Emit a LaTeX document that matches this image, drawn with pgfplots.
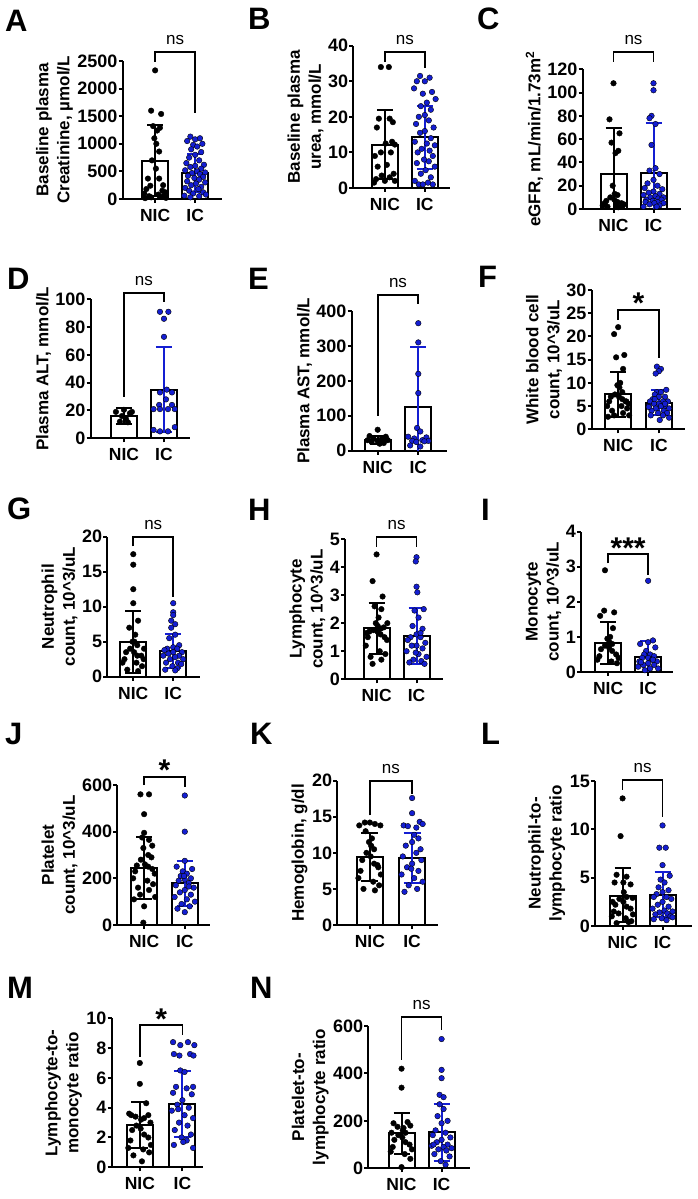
\documentclass[border=0pt]{standalone}
\usepackage{fontspec}
\setmainfont{Liberation Sans}
\usepackage{pgfplots}
\pgfplotsset{compat=1.18}
\definecolor{icblue}{RGB}{20,30,210}
\newcommand\tickfont{\fontsize{18}{18}\selectfont\bfseries}
\newcommand\xtfont{\fontsize{17.5}{17.5}\selectfont\bfseries}
\newcommand\labfont{\fontsize{17}{21}\selectfont\bfseries}
\newcommand\nsfont{\fontsize{17}{17}\selectfont}
\newcommand\starfont{\fontsize{30}{30}\selectfont\bfseries}
\newcommand\letfont{\fontsize{31}{31}\selectfont\bfseries}
\pgfplotsset{
 panel/.style={scale only axis, clip=false, anchor=south west,
  axis x line*=bottom, axis y line*=left,
  axis line style={-, line width=2pt},
  ymin=0, xtick={0,1}, xticklabels={NIC,IC},
  major tick length=4pt, tick align=outside, tick style={line width=2pt, black},
  minor tick num=0,
  /pgf/number format/assume math mode=true,
  /pgf/number format/1000 sep={},
  scaled y ticks=false,
  yticklabel style={font=\tickfont, inner sep=1pt},
  xticklabel style={font=\xtfont, inner sep=1pt, yshift=-5pt},
  ylabel style={font=\labfont, align=center}},
 bars/.style={ybar, bar width=26pt, bar shift=0pt, fill=white, draw=black, line width=2pt},
 np/.style={only marks, mark=*, mark size=2.8pt, mark options={fill=black, draw=none}},
 ip/.style={only marks, mark=*, mark size=2.8pt, mark options={fill=icblue, draw=none}},
 brk/.style={black, line width=1.8pt},
}
\tikzset{
 nsl/.style={anchor=base, font=\nsfont, inner sep=0pt, yshift=7.5pt},
 stl/.style={anchor=base, font=\starfont, inner sep=0pt, yshift=-4pt},
}
\newcommand\ebN[2]{\addplot[black,line width=2pt] coordinates {(0,#1) (0,#2)};
 \addplot[black,line width=2pt] coordinates {(-0.2,#2) (0.2,#2)};
 \addplot[black,line width=2pt] coordinates {(-0.2,#1) (0.2,#1)};}
\newcommand\ebI[2]{\addplot[icblue,line width=2pt] coordinates {(1,#1) (1,#2)};
 \addplot[icblue,line width=2pt] coordinates {(0.8,#2) (1.2,#2)};
 \addplot[icblue,line width=2pt] coordinates {(0.8,#1) (1.2,#1)};}
\newcommand\ebNu[1]{\addplot[black,line width=2pt] coordinates {(0,0) (0,#1)};
 \addplot[black,line width=2pt] coordinates {(-0.2,#1) (0.2,#1)};}
\newcommand\ebIu[1]{\addplot[icblue,line width=2pt] coordinates {(1,0) (1,#1)};
 \addplot[icblue,line width=2pt] coordinates {(0.8,#1) (1.2,#1)};}
\begin{document}
\begin{tikzpicture}[x=1pt,y=1pt]
\path[use as bounding box] (0,0) rectangle (698,1199);
% panel letters
\node[anchor=base west, font=\letfont, inner sep=0] at (5,1167) {A};
\node[anchor=base west, font=\letfont, inner sep=0] at (248,1169) {B};
\node[anchor=base west, font=\letfont, inner sep=0] at (477,1169) {C};
\node[anchor=base west, font=\letfont, inner sep=0] at (7,909) {D};
\node[anchor=base west, font=\letfont, inner sep=0] at (248,909) {E};
\node[anchor=base west, font=\letfont, inner sep=0] at (478,911) {F};
\node[anchor=base west, font=\letfont, inner sep=0] at (7,679) {G};
\node[anchor=base west, font=\letfont, inner sep=0] at (248,678) {H};
\node[anchor=base west, font=\letfont, inner sep=0] at (481,678) {I};
\node[anchor=base west, font=\letfont, inner sep=0] at (5,454) {J};
\node[anchor=base west, font=\letfont, inner sep=0] at (250,454) {K};
\node[anchor=base west, font=\letfont, inner sep=0] at (481,454) {L};
\node[anchor=base west, font=\letfont, inner sep=0] at (7,200) {M};
\node[anchor=base west, font=\letfont, inner sep=0] at (250,200) {N};

% A
\begin{axis}[panel, at={(122.7pt,1000pt)}, width=99.3pt, height=138pt, xmin=-0.81, xmax=1.67, ymax=2500, ytick={0,500,1000,1500,2000,2500}, ylabel={Baseline plasma\\Creatinine, µmol/L}]
\addplot[bars] coordinates {(0,693) (1,470)};
\addplot[np] coordinates {(0,2330) (-0.1,1600) (0.15,1540) (-0.05,1320) (0.12,1290) (0.05,1240) (-0.02,1100) (0.03,1000) (0.1,860) (-0.08,700) (0.02,550) (-0.18,370) (0.1,370) (0.2,250) (-0.22,180) (0.26,120) (-0.27,100) (0.08,80) (0.22,60) (-0.15,50) (0.12,40) (-0.1,30) (0.27,20) (-0.25,15) (0.18,150) (-0.12,240)};
\addplot[ip] coordinates {(0.88,1130) (1.12,1100) (1.0,1080) (0.8,1050) (1.18,1000) (0.95,980) (1.05,950) (0.9,900) (1.15,850) (1.0,800) (0.85,750) (1.1,700) (0.78,650) (1.22,620) (1.0,600) (0.88,580) (1.15,550) (0.75,520) (1.05,500) (1.25,480) (0.92,470) (1.12,450) (0.82,420) (1.2,400) (0.98,380) (1.1,350) (0.8,320) (1.25,300) (1.02,280) (0.9,250) (1.15,220) (0.75,200) (1.08,180) (0.85,150) (1.2,120) (0.95,100) (1.27,80) (0.73,60) (1.1,50) (0.88,30)};
\ebN{48}{1338}
\ebI{121}{819}
\addplot[brk] coordinates {(0,2487) (0,2668) (1,2668) (1,1558)};
\node[nsl] at (axis cs:0.5,2668) {ns};
\end{axis}

% B
\begin{axis}[panel, at={(353.3pt,1011pt)}, width=96.7pt, height=142.3pt, xmin=-0.79, xmax=1.63, ymax=40, ytick={0,10,20,30,40}, ylabel={Baseline plasma\\urea, mmol/L}]
\addplot[bars] coordinates {(0,12.2) (1,14.2)};
\addplot[np] coordinates {(-0.1,34) (0.1,34) (-0.15,19.5) (0.12,19.5) (0.2,18.5) (-0.2,17) (0.02,12.5) (0.25,12.2) (-0.1,10) (0.15,10) (-0.25,9) (0.05,6.5) (-0.18,6) (0.22,4) (-0.08,3.5) (0.12,3) (-0.22,2.5) (0.25,2) (0,2) (-0.27,1.5) (0.18,13)};
\addplot[ip] coordinates {(0.88,31.5) (1.12,31) (1.0,30) (0.8,30) (1.18,27) (0.95,26.5) (1.05,24) (0.9,23) (1.15,22) (1.0,20.5) (0.85,20) (1.1,19) (0.78,18) (1.22,17) (1.0,16) (0.88,15.5) (1.15,14) (0.75,13) (1.05,12.5) (1.25,12) (0.92,11) (1.12,10.5) (0.82,10) (1.2,9) (0.98,8) (1.1,7.5) (0.8,7) (1.25,6) (1.02,5) (0.9,4) (1.15,3) (0.75,2) (1.08,1.5) (0.85,1) (1.2,1) (0.95,1) (1.27,25) (0.73,28)};
\ebN{2.5}{21.9}
\ebI{5.3}{23.1}
\addplot[brk] coordinates {(0,35.5) (0,38.3) (1,38.3) (1,33.6)};
\node[nsl] at (axis cs:0.5,38.3) {ns};
\end{axis}

% C
\begin{axis}[panel, at={(582.7pt,990pt)}, width=98pt, height=139.7pt, xmin=-0.77, xmax=1.68, ymax=120, ytick={0,20,40,60,80,100,120}, ylabel={eGFR, mL/min/1.73m\textsuperscript{2}}]
\addplot[bars] coordinates {(0,30) (1,31.2)};
\addplot[np] coordinates {(0,108) (-0.1,77) (0.15,65) (-0.05,57) (0.12,50) (0.05,48) (-0.02,20) (0.03,13) (0.1,12) (-0.08,10) (0.02,8) (-0.18,7) (0.1,6) (0.2,5) (-0.22,5) (0.26,4) (-0.27,3) (0.08,3) (0.22,2) (-0.15,2) (0.12,1.5)};
\addplot[ip] coordinates {(1.0,108) (1.0,102) (0.95,80) (0.9,78) (1.05,73) (0.95,55) (1.05,35) (0.9,33) (1.15,30) (1.0,25) (0.85,22) (1.1,20) (0.78,18) (1.22,17) (1.0,15) (0.88,14) (1.15,13) (0.75,12) (1.05,11) (1.25,10) (0.92,10) (1.12,9) (0.82,8) (1.2,8) (0.98,7) (1.1,6) (0.8,6) (1.25,5) (1.02,5) (0.9,4) (1.15,3) (0.75,2) (1.08,2)};
\ebNu{69.3}
\ebIu{73.6}
\addplot[brk] coordinates {(0,126.5) (0,135) (1,135) (1,126.5)};
\node[nsl] at (axis cs:0.5,135) {ns};
\end{axis}

% D
\begin{axis}[panel, at={(90.7pt,760.7pt)}, width=99.3pt, height=139pt, xmin=-0.83, xmax=1.65, ymax=100, ytick={0,20,40,60,80,100}, ylabel={Plasma ALT, mmol/L}]
\addplot[bars] coordinates {(0,16.1) (1,34.8)};
\addplot[np] coordinates {(-0.2,19) (0.0,20.5) (0.2,19) (-0.1,12) (0.1,11.5) (0.05,14) (-0.05,16) (0.15,18)};
\addplot[ip] coordinates {(0.9,91) (1.11,91) (1.0,86) (1.0,73) (1.07,35) (0.9,33) (1.2,33) (1.05,28) (0.88,24) (1.2,24) (0.74,21) (0.9,21) (1.1,21) (1.27,21) (1.27,8) (0.74,6) (0.9,5) (1.1,5)};
\ebN{10.6}{21.6}
\ebI{4.5}{65.5}
\addplot[brk] coordinates {(0,30) (0,104.3) (1,104.3) (1,98)};
\node[nsl] at (axis cs:0.5,104.3) {ns};
\end{axis}

% E
\begin{axis}[panel, at={(351.7pt,748.3pt)}, width=95pt, height=139.7pt, xmin=-0.64, xmax=1.70, ymax=400, ytick={0,100,200,300,400}, ylabel={Plasma AST, mmol/L}]
\addplot[bars] coordinates {(0,30.5) (1,124)};
\addplot[np] coordinates {(0,60) (-0.2,42) (0.2,40) (-0.1,35) (0.1,33) (-0.25,30) (0.25,30) (0,28) (-0.15,25) (0.15,22) (0.05,20) (0.2,35)};
\addplot[ip] coordinates {(1,365) (1,310) (1,220) (1,165) (0.97,65) (1.05,55) (0.75,40) (1.2,38) (0.9,35) (1.1,30) (0.85,28) (1.25,28) (1.15,27) (0.95,25) (0.8,15) (1.05,12)};
\ebN{19}{42}
\ebIu{296}
\addplot[brk] coordinates {(0,100) (0,446) (1,446) (1,420)};
\node[nsl] at (axis cs:0.5,446) {ns};
\end{axis}

% F
\begin{axis}[panel, at={(591.7pt,769.7pt)}, width=93.3pt, height=139.3pt, xmin=-0.65, xmax=1.64, ymax=30, ytick={0,5,10,15,20,25,30}, ylabel={White blood cell\\count, 10\textasciicircum 3/uL}]
\addplot[bars] coordinates {(0,7.5) (1,5.74)};
\addplot[np] coordinates {(0,22) (-0.1,20.5) (0.15,16) (-0.05,15.5) (0.12,13) (0.05,10) (-0.02,9.5) (0.03,9) (0.1,8) (-0.08,7.5) (0.02,7) (-0.18,7) (0.1,6.5) (0.2,6) (-0.22,6) (0.26,5.5) (-0.27,5) (0.08,5) (0.22,4.5) (-0.15,4) (0.12,3.5) (-0.1,3) (0.27,3) (-0.25,2.7) (0.18,6)};
\addplot[ip] coordinates {(0.95,13.5) (1.05,13) (1.0,12.5) (0.92,12) (1.18,8.5) (0.95,8) (1.05,8) (0.9,7.5) (1.15,7) (1.0,7) (0.85,6.5) (1.1,6) (0.78,6) (1.22,6) (1.0,5.5) (0.88,5.5) (1.15,5) (0.75,5) (1.05,5) (1.25,4.5) (0.92,4.5) (1.12,4) (0.82,4) (1.2,3.5) (0.98,3.5) (1.1,3) (0.8,3) (1.25,2.5) (1.02,2) (0.9,6.5) (1.15,5.5) (0.75,4.8)};
\ebN{2.6}{12.4}
\ebI{3.0}{8.47}
\addplot[brk] coordinates {(0,23.5) (0,25.7) (1,25.7) (1,15.3)};
\node[stl] at (axis cs:0.5,25.7) {*};
\end{axis}

% G
\begin{axis}[panel, at={(107.3pt,522.3pt)}, width=92.7pt, height=140pt, xmin=-0.65, xmax=1.67, ymax=20, ytick={0,5,10,15,20}, ylabel={Neutrophil\\count, 10\textasciicircum 3/uL}]
\addplot[bars] coordinates {(0,5.0) (1,3.67)};
\addplot[np] coordinates {(0,17.5) (0,16) (0,12.5) (0,10.5) (0.12,8) (0.05,6) (-0.02,5) (0.03,5) (0.1,4.5) (-0.08,4) (0.02,3.5) (-0.18,3.5) (0.1,3) (0.2,3) (-0.22,2.5) (0.26,2.5) (-0.27,2) (0.08,2) (0.22,1.5) (-0.15,1) (0.12,0.8) (-0.1,7) (0.27,4)};
\addplot[ip] coordinates {(1.0,10.5) (1.0,9.2) (1.0,8.8) (0.95,8) (1.05,7.5) (0.95,7) (1.05,6) (0.9,5.5) (1.15,4.5) (1.0,4.2) (0.85,4) (1.1,4) (0.78,3.8) (1.22,3.5) (1.0,3.5) (0.88,3.3) (1.15,3) (0.75,3) (1.05,2.8) (1.25,2.5) (0.92,2.5) (1.12,2) (0.82,2) (1.2,1.8) (0.98,1.5) (1.1,1.2) (0.8,1) (1.05,0.9)};
\ebN{0.57}{9.43}
\ebI{1.24}{6.1}
\addplot[brk] coordinates {(0,18.6) (0,19.9) (1,19.9) (1,11.4)};
\node[nsl] at (axis cs:0.5,19.9) {ns};
\end{axis}

% H
\begin{axis}[panel, at={(345pt,519.7pt)}, width=98.3pt, height=140.3pt, xmin=-0.79, xmax=1.67, ymax=5, ytick={0,1,2,3,4,5}, ylabel={Lymphocyte\\count, 10\textasciicircum 3/uL}]
\addplot[bars] coordinates {(0,1.82) (1,1.54)};
\addplot[np] coordinates {(0,4.45) (-0.1,3.5) (0.15,2.95) (-0.05,2.6) (0.12,2.5) (0.05,2.2) (-0.02,2.0) (0.03,1.9) (0.1,1.8) (-0.08,1.75) (0.02,1.7) (-0.18,1.7) (0.1,1.6) (0.2,1.5) (-0.22,1.5) (0.26,1.4) (-0.27,1.2) (0.08,1.0) (0.22,0.9) (-0.15,0.8) (0.12,0.7) (-0.1,0.55) (0.27,2.0) (-0.25,1.65) (0.18,1.85)};
\addplot[ip] coordinates {(1.0,4.35) (0.98,4.2) (1.0,3.3) (1.02,3.1) (1.18,2.5) (0.95,2.45) (1.05,2.2) (0.9,1.9) (1.15,1.8) (1.0,1.6) (0.85,1.5) (1.1,1.5) (0.78,1.4) (1.22,1.3) (1.0,1.2) (0.88,1.2) (1.15,1.1) (0.75,1.0) (1.05,0.9) (1.25,0.8) (0.92,0.7) (1.12,0.65) (0.82,0.6) (1.2,0.55) (0.98,0.95) (1.1,1.65)};
\ebN{0.91}{2.73}
\ebI{0.55}{2.53}
\addplot[brk] coordinates {(0,4.73) (0,5.06) (1,5.06) (1,4.73)};
\node[nsl] at (axis cs:0.5,5.06) {ns};
\end{axis}

% I
\begin{axis}[panel, at={(581pt,527pt)}, width=92.3pt, height=140.3pt, xmin=-0.68, xmax=1.63, ymax=4, ytick={0,1,2,3,4}, ylabel={Monocyte\\count, 10\textasciicircum 3/uL}]
\addplot[bars] coordinates {(0,0.836) (1,0.437)};
\addplot[np] coordinates {(-0.08,2.9) (-0.1,1.75) (0.15,1.7) (-0.2,1.6) (0.12,1.25) (0.05,1.0) (-0.02,0.95) (0.03,0.85) (0.1,0.8) (-0.08,0.75) (0.02,0.7) (-0.18,0.65) (0.1,0.6) (0.2,0.5) (-0.22,0.45) (0.26,0.4) (-0.27,0.35) (0.08,0.3) (0.22,0.25)};
\addplot[ip] coordinates {(1.0,2.6) (1.12,0.9) (1.0,0.85) (0.8,0.8) (1.18,0.7) (0.95,0.6) (1.05,0.5) (0.9,0.5) (1.15,0.45) (1.0,0.4) (0.85,0.4) (1.1,0.35) (0.78,0.3) (1.22,0.3) (1.0,0.25) (0.88,0.2) (1.15,0.2) (0.75,0.15) (1.05,0.1) (1.25,0.1) (0.92,0.05) (1.12,0.35) (0.82,0.28)};
\ebN{0.24}{1.43}
\ebIu{0.88}
\addplot[brk] coordinates {(0,3.1) (0,3.36) (1,3.36) (1,2.77)};
\node[stl] at (axis cs:0.5,3.36) {***};
\end{axis}

% J
\begin{axis}[panel, at={(117.3pt,274pt)}, width=92.7pt, height=140pt, xmin=-0.66, xmax=1.62, ymax=600, ytick={0,200,400,600}, ylabel={Platelet\\count, 10\textasciicircum 3/uL}]
\addplot[bars] coordinates {(0,243) (1,179)};
\addplot[np] coordinates {(-0.09,560) (0.12,560) (0,475) (0,395) (-0.05,375) (0.12,365) (-0.02,330) (0.2,340) (0.1,300) (-0.08,280) (0.02,260) (-0.18,255) (0.1,250) (0.2,240) (-0.22,230) (0.26,220) (-0.27,200) (0.08,190) (0.22,175) (-0.15,160) (0.12,150) (-0.1,130) (0.27,120) (-0.25,110) (0.0,80) (-0.02,10) (0.18,290)};
\addplot[ip] coordinates {(1.0,555) (1.0,400) (1.0,275) (0.8,250) (1.18,240) (0.95,230) (1.05,220) (0.9,210) (1.15,200) (1.0,195) (0.85,190) (1.1,180) (0.78,170) (1.22,160) (1.0,150) (0.88,140) (1.15,130) (0.75,120) (1.05,110) (1.25,100) (0.92,90) (1.12,80) (0.82,70) (1.0,55) (0.98,210) (1.1,165)};
\ebN{110}{376}
\ebI{82}{276}
\addplot[brk] coordinates {(0,600) (0,635.6) (1,635.6) (1,593)};
\node[stl] at (axis cs:0.5,635.6) {*};
\end{axis}

% K
\begin{axis}[panel, at={(337.3pt,274pt)}, width=101pt, height=144.3pt, xmin=-0.77, xmax=1.62, ymax=20, ytick={0,5,10,15,20}, ylabel={Hemoglobin, g/dl}]
\addplot[bars] coordinates {(0,9.38) (1,9.33)};
\addplot[np] coordinates {(-0.25,13.8) (-0.12,14.2) (0.0,14.2) (0.12,14) (0.25,13.8) (0.05,12) (-0.02,11.5) (0.03,11) (0.1,10.5) (-0.08,10) (0.02,9.5) (-0.18,9) (0.1,8.5) (0.2,8) (-0.22,7.5) (0.26,7) (-0.27,6.5) (0.08,6) (0.22,5.5) (-0.15,5) (0.12,4.8) (-0.1,13) (0.18,8.3)};
\addplot[ip] coordinates {(1.0,17.6) (1.0,15.5) (1.18,14.3) (1.25,14) (0.8,13.8) (0.9,13.7) (1.1,13.5) (1.05,12.5) (1.15,12) (1.0,11.5) (0.85,11) (1.1,10) (0.78,9.5) (1.22,9) (1.0,8.5) (0.88,8) (1.15,7.5) (0.75,7) (1.05,6.5) (1.25,6) (0.92,5.5) (1.12,5) (0.82,4.6) (1.2,10.5) (0.98,7.8)};
\ebN{6.1}{12.7}
\ebI{5.86}{12.8}
\addplot[brk] coordinates {(0,15.2) (0,20) (1,20) (1,18.2)};
\node[nsl] at (axis cs:0.5,20) {ns};
\end{axis}

% L
\begin{axis}[panel, at={(595pt,273pt)}, width=96.7pt, height=145pt, xmin=-0.69, xmax=1.73, ymax=15, ytick={0,5,10,15}, ylabel={Neutrophil-to-\\lymphocyte ratio}]
\addplot[bars] coordinates {(0,3.14) (1,3.2)};
\addplot[np] coordinates {(0,13.2) (-0.05,9.3) (-0.15,5.3) (0.1,5.1) (-0.2,4.5) (0.02,4.5) (0.2,4.3) (0.03,3.5) (0.1,3) (-0.08,2.8) (0.02,2.5) (-0.18,2.2) (0.1,2) (0.2,1.8) (-0.22,1.5) (0.26,1.2) (-0.27,1) (0.08,0.8) (0.22,0.5) (-0.15,0.3) (-0.25,2.5) (0.25,2.9) (-0.1,1.3) (0.15,0.4)};
\addplot[ip] coordinates {(1.0,10.4) (0.92,8.1) (1.08,8.1) (1.0,6.3) (1.18,5.2) (0.95,4.8) (1.05,4.5) (0.9,4) (1.15,3.7) (1.0,3.5) (0.85,3.3) (1.1,3) (0.78,3) (1.22,2.8) (1.0,2.5) (0.88,2.2) (1.15,2) (0.75,1.8) (1.05,1.6) (1.25,1.5) (0.92,1.4) (1.12,1.3) (0.82,1.2) (1.2,1) (0.98,0.8) (1.1,0.6) (0.78,0.7) (1.25,0.9)};
\ebN{0.38}{6.03}
\ebI{0.97}{5.55}
\addplot[brk] coordinates {(0,14.1) (0,15.1) (1,15.1) (1,11.3)};
\node[nsl] at (axis cs:0.5,15.1) {ns};
\end{axis}

% M
\begin{axis}[panel, at={(111.7pt,31.7pt)}, width=91.6pt, height=149pt, xmin=-0.66, xmax=1.49, ymax=10, ytick={0,2,4,6,8,10}, ylabel={Lymphocyte-to-\\monocyte ratio}]
\addplot[bars] coordinates {(0,2.84) (1,4.25)};
\addplot[np] coordinates {(0,7) (0,5.6) (0.15,4.3) (-0.2,3.5) (0.2,3.5) (-0.1,3.4) (0.1,3.3) (0.03,3.2) (0.25,3.0) (-0.08,2.8) (0.02,2.6) (-0.18,2.5) (0.1,2.2) (0.2,2.0) (-0.22,1.8) (0.26,1.5) (-0.27,1.3) (0.08,1.2) (0.22,1.0) (-0.15,0.8) (0.05,0.4) (-0.25,3.6)};
\addplot[ip] coordinates {(0.78,8.4) (1.13,8.4) (0.95,8.2) (1.28,8.2) (0.8,7.6) (1.18,7.6) (0.93,7.5) (1.26,7.5) (0.95,6.5) (1.05,6.4) (0.85,5.4) (1.25,5.4) (1.1,5.3) (0.78,5.0) (1.22,4.9) (1.0,4.5) (0.88,4.2) (1.15,4.0) (0.75,3.8) (1.05,3.5) (1.25,3.3) (0.92,3.0) (1.12,2.8) (0.82,2.5) (1.2,2.2) (0.98,2.0) (1.1,1.8) (0.8,1.5) (1.25,1.3) (1.02,1.7) (0.9,3.9)};
\ebN{1.27}{4.41}
\ebI{2.03}{6.47}
\addplot[brk] coordinates {(0,7.42) (0,9.55) (1,9.55) (1,8.88)};
\node[stl] at (axis cs:0.5,9.55) {*};
\end{axis}

% N
\begin{axis}[panel, at={(368.3pt,30.7pt)}, width=101.7pt, height=142.3pt, xmin=-0.83, xmax=1.71, ymax=600, ytick={0,200,400,600}, ylabel={Platelet-to-\\lymphocyte ratio}]
\addplot[bars] coordinates {(0,147.5) (1,151.8)};
\addplot[np] coordinates {(0,420) (0,340) (0.15,195) (-0.2,190) (0.22,180) (-0.1,175) (0.05,170) (0.03,160) (0.1,150) (-0.08,140) (0.02,130) (-0.18,120) (0.1,110) (0.2,100) (-0.22,90) (0.26,80) (-0.27,70) (0.08,60) (0.22,40) (0,5) (-0.25,150)};
\addplot[ip] coordinates {(1.0,545) (1.0,415) (1.0,380) (0.95,310) (1.05,300) (0.95,270) (1.05,250) (0.9,220) (1.15,200) (1.0,190) (0.85,160) (1.1,150) (0.78,140) (1.22,130) (1.0,120) (0.88,110) (1.15,100) (0.75,95) (1.05,90) (1.25,85) (0.92,80) (1.12,75) (0.82,60) (1.2,50) (0.98,30) (1.1,15) (0.8,100)};
\ebN{60}{235}
\ebI{32}{271}
\addplot[brk] coordinates {(0,457) (0,639) (1,639) (1,583)};
\node[nsl] at (axis cs:0.5,639) {ns};
\end{axis}
\end{tikzpicture}
\end{document}
